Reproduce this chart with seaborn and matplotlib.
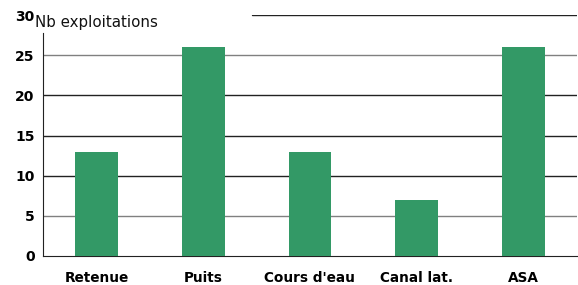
import matplotlib.pyplot as plt
import seaborn as sns
import pandas as pd

categories = ["Retenue", "Puits", "Cours d'eau", "Canal lat.", "ASA"]
nb_exploitations = [13, 26, 13, 7, 26]
y_ticks = [0, 5, 10, 15, 20, 25, 30]

df = pd.DataFrame({"source": categories, "nb": nb_exploitations})

sns.set_style("white")
plt.rcParams['font.family'] = ['DejaVu Sans']

fig = plt.figure(figsize=(5.78, 2.85), dpi=100)
ax = fig.add_axes([0.0744, 0.1018, 0.9236, 0.8452])

sns.barplot(data=df, x="source", y="nb", color="#339966", width=0.4,
            saturation=1, linewidth=0, ax=ax, zorder=3)

ax.set_ylim(0, 30)
ax.set_xlim(-0.5, len(categories) - 0.5)
ax.set_yticks(y_ticks)
ax.set_yticklabels([str(v) for v in y_ticks], fontweight="bold", fontsize=10, color="#000000")
ax.set_xticks(range(len(categories)))
ax.set_xticklabels(categories, fontweight="bold", fontsize=9.8, color="#000000")
ax.set_xticks([i - 0.5 for i in range(len(categories) + 1)], minor=True)
ax.tick_params(axis="x", which="major", length=0, pad=11)
ax.tick_params(axis="x", which="minor", length=4, width=1, color="#222222", direction="out")
ax.tick_params(axis="y", length=3, width=1, color="#222222", direction="out", pad=3)
ax.set_xlabel("")
ax.set_ylabel("")

# gridlines
for v in [5, 10, 15, 20, 25]:
    c = "#808080" if v in (5, 25) else "#222222"
    ax.axhline(v, color=c, lw=1, zorder=1)
ax.axhline(30, xmin=0.391, xmax=1, color="#222222", lw=1, zorder=1)

for s in ["top", "right"]:
    ax.spines[s].set_visible(False)
ax.spines["left"].set_color("#222222")
ax.spines["left"].set_bounds(0, 27.8)
ax.spines["bottom"].set_color("#222222")

fig.text(0.061, 0.893, "Nb exploitations", fontsize=10.8, color="#111111",
         ha="left", va="bottom")

fig.savefig("out.png", dpi=100)
